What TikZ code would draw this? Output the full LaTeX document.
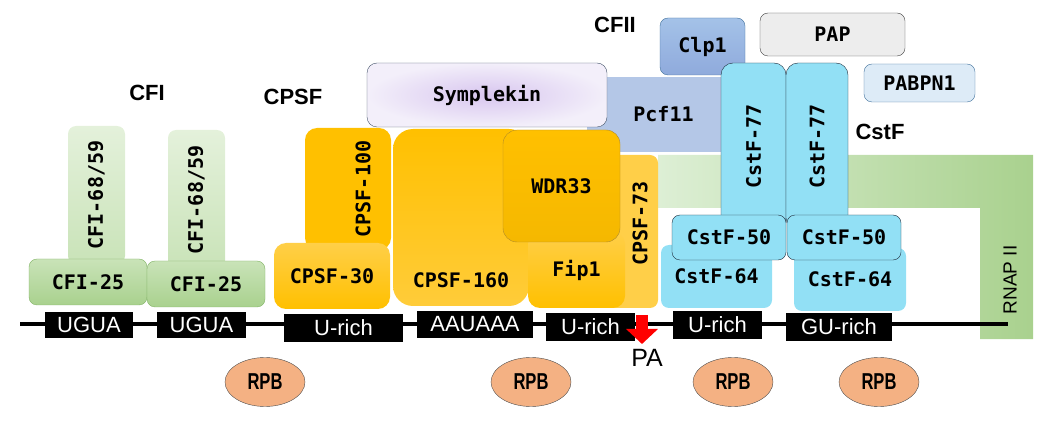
\documentclass[tikz,border=0pt]{standalone}
\usepackage{fontspec}
\usepackage{graphicx}
\setmainfont{Liberation Sans}
\newfontfamily\subunitfont{DejaVu Sans Mono}
\usepackage{tikz}
\usetikzlibrary{arrows.meta,positioning,shapes.geometric}
\definecolor{cfigreen}{HTML}{A9D18E}
\definecolor{cfigreenlight}{HTML}{C9E3B8}
\definecolor{cfipale}{HTML}{E4F1DB}
\definecolor{cfiedge}{HTML}{82B366}
\definecolor{cpsforange}{HTML}{FFC000}
\definecolor{cpsflight}{HTML}{FFCF48}
\definecolor{cpsfdeep}{HTML}{F5B800}
\definecolor{cpsfedge}{HTML}{B08A2A}
\definecolor{symlav}{HTML}{D8C6EF}
\definecolor{sympale}{HTML}{F3EFFA}
\definecolor{symedge}{HTML}{44546A}
\definecolor{pcfblue}{HTML}{B4C7E7}
\definecolor{clpblue}{HTML}{A4C2E8}
\definecolor{clpdark}{HTML}{8FAADC}
\definecolor{clpedge}{HTML}{41719C}
\definecolor{papgray}{HTML}{EDEDED}
\definecolor{pabblue}{HTML}{DDEBF7}
\definecolor{cstfcyan}{HTML}{92E0F5}
\definecolor{cstfedge}{HTML}{1F2D3D}
\definecolor{rnaplight}{HTML}{DDEFD5}
\definecolor{rnapgreen}{HTML}{A9D18E}
\definecolor{rpbsalmon}{HTML}{F4B183}
\definecolor{cutred}{HTML}{FF0000}
\tikzset{
  cpabox/.style={
    rectangle,
    rounded corners=8pt,
    inner sep=0pt,
    align=center,
    font=\subunitfont\bfseries\fontsize{20}{24}\selectfont
  },
  cpatext/.style={
    inner sep=0pt,
    font=\subunitfont\bfseries\fontsize{20}{24}\selectfont
  },
  cpamotif/.style={
    rectangle,
    fill=black,
    text=white,
    inner sep=0pt,
    minimum height=27pt,
    font=\fontsize{22}{26}\selectfont
  },
  cparpb/.style={
    ellipse,
    draw=black!70,
    fill=rpbsalmon,
    minimum width=80pt,
    minimum height=49pt,
    inner sep=0pt,
    font=\bfseries\fontsize{23}{26}\selectfont
  },
  cpatitle/.style={
    inner sep=0pt,
    font=\bfseries\fontsize{22}{26}\selectfont
  },
  cparna/.style={
    line width=4pt,
    draw=black
  },
  cpacut/.style={
    -{Triangle[width=31pt,length=15pt]},
    line width=12pt,
    draw=cutred
  }
}
\begin{document}
\begin{tikzpicture}[x=1pt, y=-1pt, node distance=6pt]
\useasboundingbox (0,0) rectangle (1045,422);

% RNAP II band
\shade[left color=rnaplight, right color=rnapgreen]
  (658,155) -- (1033,155) -- (1033,339) -- (980,339) -- (980,208) -- (658,208) -- cycle;
\node[cpatext, font=\fontsize{19}{22}\selectfont, rotate=90] (rnap) at (1010,280) {RNAP II};

% CFII
\node[cpabox, rounded corners=0pt, fill=pcfblue, minimum width=135pt, minimum height=75pt] (pcf11) at (654.5,114.5) {};
\node[cpatext] (pcf11text) at ([xshift=9pt]pcf11.center) {Pcf11};
\node[cpabox, top color=clpblue, bottom color=clpdark, draw=clpedge, minimum width=85pt, minimum height=57pt] (clp1) at (702.5,46.5) {Clp1};

% CPSF
\node[cpabox, inner color=symlav, outer color=sympale, draw=symedge, rounded corners=10pt, minimum width=240pt, minimum height=64pt] (symplekin) at (487,95) {Symplekin};
\node[cpabox, fill=cpsflight, minimum width=75pt, minimum height=153pt] (cpsf73) at (620.5,231.5) {};
\node[cpatext, rotate=90] (cpsf73text) at ([xshift=-18pt, yshift=8pt]cpsf73.east) {CPSF-73};
\node[cpabox, fill=cpsforange, rounded corners=12pt, minimum width=86pt, minimum height=122pt] (cpsf100) at (348,189) {};
\node[cpatext, rotate=90] (cpsf100text) at ([xshift=15pt]cpsf100.center) {CPSF-100};
\node[cpabox, top color=cpsforange, bottom color=cpsflight!80!cpsforange, rounded corners=20pt, minimum width=136pt, minimum height=177pt] (cpsf160) at (461,217.5) {};
\node[cpatext, above=18pt of cpsf160.south] (cpsf160text) {CPSF-160};
\node[cpabox, top color=cpsflight, bottom color=cpsforange, rounded corners=12pt, minimum width=97pt, minimum height=76pt] (fip1) at (576.5,270) {Fip1};
\node[cpabox, top color=cpsforange, bottom color=cpsfdeep, draw=cpsfedge, rounded corners=14pt, minimum width=117pt, minimum height=112pt] (wdr33) at (561.5,186) {WDR33};
\node[cpabox, top color=cpsflight, bottom color=cpsforange, rounded corners=12pt, minimum width=116pt, minimum height=66pt] (cpsf30) at (332,276) {CPSF-30};

% CFI
\node[cpabox, top color=cfipale, bottom color=cfigreenlight, minimum width=138pt, minimum height=57pt, rotate=90] (cfi68a) at (96.5,195) {CFI-68/59};
\node[cpabox, top color=cfipale, bottom color=cfigreenlight, minimum width=140pt, minimum height=57pt, rotate=90] (cfi68b) at (196.5,200) {CFI-68/59};
\node[cpabox, top color=cfigreenlight, bottom color=cfigreen, draw=cfiedge, minimum width=118pt, minimum height=46pt] (cfi25a) at (88,282) {CFI-25};
\node[cpabox, top color=cfigreenlight, bottom color=cfigreen, draw=cfiedge, minimum width=118pt, minimum height=46pt] (cfi25b) at (206,284) {CFI-25};

% CstF
\node[cpabox, fill=cstfcyan, draw=cstfedge, rounded corners=12pt, minimum width=167pt, minimum height=65pt, rotate=90] (cstf77a) at (753.5,146.5) {CstF-77};
\node[cpabox, fill=cstfcyan, draw=cstfedge, rounded corners=12pt, minimum width=167pt, minimum height=62pt, rotate=90] (cstf77b) at (817,146.5) {CstF-77};
\node[cpabox, fill=cstfcyan, minimum width=111pt, minimum height=63pt] (cstf64a) at (716.5,276.5) {CstF-64};
\node[cpabox, fill=cstfcyan, minimum width=112pt, minimum height=63pt] (cstf64b) at (850,279.5) {CstF-64};
\node[cpabox, fill=cstfcyan, draw=cstfedge, minimum width=114pt, minimum height=45pt] (cstf50a) at (729,237.5) {CstF-50};
\node[cpabox, fill=cstfcyan, draw=cstfedge, minimum width=114pt, minimum height=45pt] (cstf50b) at (844,237.5) {CstF-50};

% poly(A) factors
\node[cpabox, fill=papgray, draw=black!75, minimum width=145pt, minimum height=43pt] (pap) at (832.5,34.5) {PAP};
\node[cpabox, fill=pabblue, draw=clpedge, minimum width=111pt, minimum height=38pt] (pabpn1) at (919.5,83) {PABPN1};

% RNA and motifs
\coordinate (rnastart) at (20,324);
\coordinate (rnaend) at (1008,324);
\draw[cparna] (rnastart) -- (rnaend);
\node[cpamotif, minimum width=88pt, minimum height=26pt] (uguaa) at (89,325) {UGUA};
\node[cpamotif, minimum width=89pt, minimum height=26pt] (uguab) at (201.5,325) {UGUA};
\node[cpamotif, minimum width=119pt, minimum height=28pt] (uricha) at (343.5,328) {U-rich};
\node[cpamotif, minimum width=116pt] (pas) at (475,324.5) {AAUAAA};
\node[cpamotif, minimum width=89pt, minimum height=28pt] (urichb) at (590.5,327) {U-rich};
\node[cpamotif, minimum width=89pt, minimum height=28pt] (urichc) at (717.5,325) {U-rich};
\node[cpamotif, minimum width=106pt, minimum height=28pt] (gurich) at (839,327) {GU-rich};

% cleavage site
\coordinate (cuttop) at (642,315);
\coordinate (cuttip) at (642,344);
\draw[cpacut] (cuttop) -- (cuttip);
\node[cpatext, font=\fontsize{25}{28}\selectfont, below=5pt of cuttip, xshift=5pt] (pa) {PA};

% RBPs
\node[cparpb] (rpba) at (265,382) {\scalebox{0.72}[1]{RPB}};
\node[cparpb] (rpbb) at (531,382) {\scalebox{0.72}[1]{RPB}};
\node[cparpb] (rpbc) at (733,382) {\scalebox{0.72}[1]{RPB}};
\node[cparpb] (rpbd) at (879,382) {\scalebox{0.72}[1]{RPB}};

% complex names
\node[cpatitle] (cfi) at (147,93) {CFI};
\node[cpatitle] (cpsf) at (293,97) {CPSF};
\node[cpatitle] (cfii) at (615,25) {CFII};
\node[cpatitle] (cstf) at (880,132) {CstF};
\end{tikzpicture}
\end{document}
